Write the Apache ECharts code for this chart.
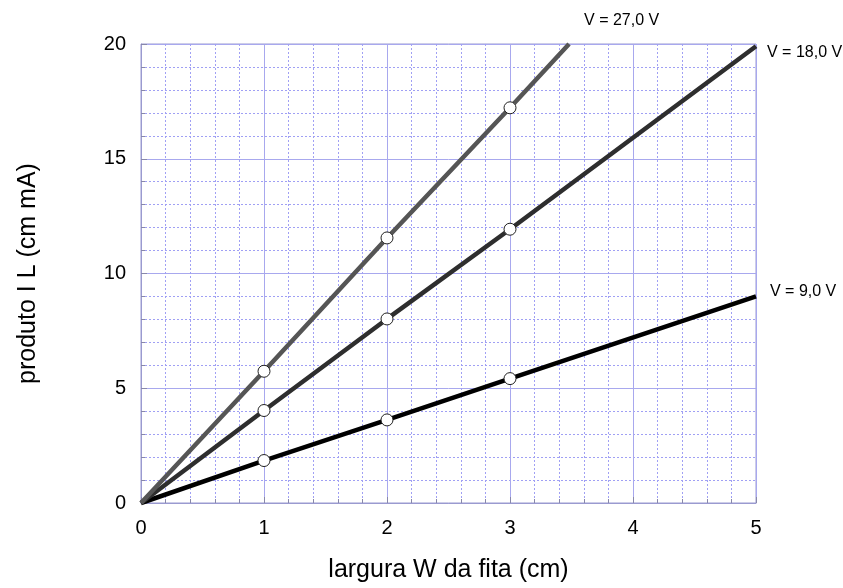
<!DOCTYPE html>
<html><head><meta charset="utf-8">
<script src="https://cdn.jsdelivr.net/npm/echarts@6/dist/echarts.min.js"></script>
<style>html,body{margin:0;padding:0;background:#fff}#c{width:843px;height:588px}</style>
</head><body><div id="c"></div>
<script>
const xTicks = [0, 1, 2, 3, 4, 5];
const yTicks = [0, 5, 10, 15, 20];
const measW = [1, 2, 3];
const il9 = [1.85, 3.62, 5.42];
const il18 = [4.03, 8.02, 11.93];
const il27 = [5.74, 11.55, 17.22];
const fitEnd9 = [5, 9.0];
const fitEnd18 = [5, 19.9];
const fitEnd27 = [3.48, 20];
const seriesNames = ['V = 9,0 V', 'V = 18,0 V', 'V = 27,0 V'];
const lineColors = ['#000000', '#2e2e2e', '#555555'];

function fitLine(vals, end) {
  return [[0, 0]].concat(measW.map((w, i) => [w, vals[i]])).concat([end]);
}
function pts(vals) { return measW.map((w, i) => [w, vals[i]]); }

const font = 'Liberation Sans, Helvetica, Arial, sans-serif';
const chart = echarts.init(document.getElementById('c'));
const endLabelOffsets = [[14, -5], [11, 6], [15, -23]];
const allVals = [il9, il18, il27];
const ends = [fitEnd9, fitEnd18, fitEnd27];

const series = [];
allVals.forEach((v, i) => {
  series.push({
    type: 'line', name: seriesNames[i], data: fitLine(v, ends[i]),
    showSymbol: false, symbol: 'none', clip: false,
    lineStyle: { color: lineColors[i], width: 4.5 },
    z: 3,
    endLabel: { show: true, formatter: seriesNames[i], color: '#000', fontFamily: font, fontSize: 16,
      position: 'right', distance: 0, offset: endLabelOffsets[i] },
    animation: false
  });
});
allVals.forEach((v, i) => {
  series.push({
    type: 'scatter', data: pts(v), symbol: 'circle', symbolSize: 12,
    itemStyle: { color: '#ffffff', opacity: 1, borderColor: '#222', borderWidth: 1 }, z: 5, animation: false
  });
});

chart.setOption({
  animation: false,
  backgroundColor: '#fff',
  grid: { left: 141, top: 44, width: 615, height: 462, show: true, borderColor: '#9a9ad0', borderWidth: 1, backgroundColor: 'transparent' },
  xAxis: {
    type: 'value', min: xTicks[0], max: xTicks[xTicks.length - 1], interval: 1,
    name: 'largura W da fita (cm)', nameLocation: 'middle', nameGap: 55,
    nameTextStyle: { fontFamily: font, fontSize: 25, color: '#000' },
    axisLine: { show: true, lineStyle: { color: '#9a9ad0', width: 1 } },
    axisTick: { show: true, inside: true, length: 6, lineStyle: { color: '#8888aa' } },
    minorTick: { show: true, splitNumber: 5, length: 4, lineStyle: { color: '#8888aa' } },
    axisLabel: { fontFamily: font, fontSize: 20, color: '#000', margin: 15 },
    splitLine: { show: true, lineStyle: { color: '#a8a8ee', width: 1 } },
    minorSplitLine: { show: true, lineStyle: { color: '#a0a0f4', width: 1, type: [2, 2] } }
  },
  yAxis: {
    type: 'value', min: yTicks[0], max: yTicks[yTicks.length - 1], interval: 5,
    name: 'produto I L (cm mA)', nameLocation: 'middle', nameGap: 100, nameRotate: 90,
    nameTextStyle: { fontFamily: font, fontSize: 25, color: '#000' },
    axisLine: { show: true, lineStyle: { color: '#9a9ad0', width: 1 } },
    axisTick: { show: true, inside: true, length: 6, lineStyle: { color: '#8888aa' } },
    minorTick: { show: true, splitNumber: 5, length: 4, lineStyle: { color: '#8888aa' } },
    axisLabel: { fontFamily: font, fontSize: 20, color: '#000', margin: 15 },
    splitLine: { show: true, lineStyle: { color: '#a8a8ee', width: 1 } },
    minorSplitLine: { show: true, lineStyle: { color: '#a0a0f4', width: 1, type: [2, 2] } }
  },
  series: series
});
</script></body></html>
